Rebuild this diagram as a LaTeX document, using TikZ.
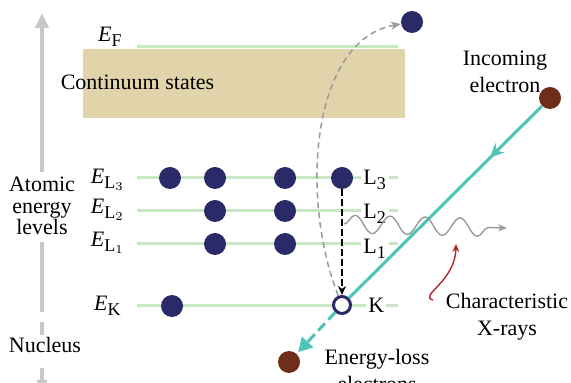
\documentclass[tikz,border=0pt]{standalone}
\usepackage{fontspec}
\setmainfont{Liberation Serif}
\usepackage{tikz}
\usetikzlibrary{arrows.meta, positioning, decorations.pathmorphing, decorations.markings}
\DeclareMathSizes{11}{11}{9}{6}
\definecolor{levGreen}{HTML}{C9E7C4}
\definecolor{contTan}{HTML}{E1D4AA}
\definecolor{elNavy}{HTML}{2A2A68}
\definecolor{elBrown}{HTML}{6E2E1A}
\definecolor{beamTeal}{HTML}{4EC4B4}
\definecolor{axisGray}{HTML}{C8C8C8}
\definecolor{pathGray}{HTML}{9A9A9A}
\definecolor{xrayRed}{HTML}{B3262C}

\begin{document}
\begin{tikzpicture}[
    x=0.5pt, y=-0.5pt,
    txt/.style={font=\fontsize{11}{13.5}\selectfont, inner sep=1pt},
    lvlab/.style={txt, anchor=base east},
    shlab/.style={txt, anchor=base west, fill=white},
    level/.style={levGreen, line width=1.5pt},
    electron/.style={circle, fill=elNavy, minimum size=11pt, inner sep=0pt},
    fast/.style={circle, fill=elBrown, minimum size=11pt, inner sep=0pt},
    hole/.style={circle, draw=elNavy, line width=1.5pt, fill=white, minimum size=8.5pt, inner sep=0pt},
    axis/.style={axisGray, line width=2pt},
    beam/.style={beamTeal, line width=1.5pt},
]
    \useasboundingbox (0,0) rectangle (571,383);

    \draw[axis, -{Triangle[length=7.5pt, width=6.5pt]}] (42,172) -- (42,13);
    \draw[axis] (42,242) -- (42,312);
    \draw[axis] (42,322) -- (42,335);
    \draw[axis, -{Triangle[length=6pt, width=5pt]}] (42,368) -- (42,392);
    \node[txt, align=center, font=\fontsize{11}{10.75}\selectfont] (atomic) at (42,206) {Atomic\\energy\\levels};
    \node[txt, anchor=base] (nucleus) at (45,353) {Nucleus};

    \fill[contTan] (83,49) rectangle (405,118);
    \node[txt, anchor=base] (cont) at (137.5,90) {Continuum states};

    \draw[level] (137,47) -- (398,47);
    \draw[level] (137,178) -- (398,178);
    \draw[level] (137,211) -- (398,211);
    \draw[level] (137,244) -- (398,244);
    \draw[level] (137,306) -- (398,306);

    \node[lvlab] (ef) at (125,42) {$\mathit{E}_{\mathrm{F}}$};
    \node[lvlab] (el3) at (127,184) {$\mathit{E}_{\mathrm{L}_3}$};
    \node[lvlab] (el2) at (127,214) {$\mathit{E}_{\mathrm{L}_2}$};
    \node[lvlab] (el1) at (127,247) {$\mathit{E}_{\mathrm{L}_1}$};
    \node[lvlab] (ek) at (124,311) {$\mathit{E}_{\mathrm{K}}$};

    \node[shlab] (sl3) at (361,185) {L\textsubscript{3}};
    \node[shlab] (sl2) at (361,219) {L\textsubscript{2}};
    \node[shlab] (sl1) at (361,254) {L\textsubscript{1}};
    \node[shlab] (sk) at (366,313) {K};

    \node[electron] (l3a) at (170,178) {};
    \node[electron] (l3b) at (215,178) {};
    \node[electron] (l3c) at (285,178) {};
    \node[electron] (l3d) at (342,178) {};
    \node[electron] (l2a) at (215,211) {};
    \node[electron] (l2b) at (285,211) {};
    \node[electron] (l1a) at (215,244) {};
    \node[electron] (l1b) at (285,244) {};
    \node[electron] (ka) at (172,306) {};
    \node[electron] (ejected) at (412,22) {};
    \node[hole] (khole) at (342,305) {};

    \node[fast] (incoming) at (550,98) {};
    \node[fast] (lost) at (289,362) {};
    \node[txt, align=center] (inlab) at (505,72) {Incoming\\electron};
    \node[txt, align=center] (lostlab) at (377,370) {Energy-loss\\electrons};
    \node[txt, align=center] (xlab) at (507,317) {Characteristic\\X-rays};

    \draw[pathGray, line width=0.75pt, dash pattern=on 3pt off 2pt, -{Stealth[length=5pt, width=4pt]}]
        (khole) .. controls (300,200) and (310,40) .. (ejected);
    \draw[line width=1.1pt, dash pattern=on 3.5pt off 1.5pt, -{Stealth[length=4.5pt, width=4pt]}] (l3d) -- (khole);

    \draw[beam, postaction=decorate, decoration={markings,
        mark=at position 0.27 with {\arrow{Stealth[length=7pt, width=6.5pt]}}}] (incoming) -- (khole);
    \draw[beam, dash pattern=on 5pt off 2.5pt, shorten >=1pt, -{Triangle[length=7pt, width=7.5pt]}] (khole) -- (lost);

    \coordinate (xs) at (344,224);
    \coordinate (xe) at (507,228);
    \draw[pathGray, line width=0.7pt, decorate, decoration={snake, amplitude=4.5pt, segment length=17.5pt, post length=4pt},
        -{Stealth[length=4.5pt, width=3.5pt]}] (xs) -- (xe);

    \coordinate (redS) at (433,300);
    \coordinate (redE) at (456,244);
    \draw[xrayRed, line width=0.7pt, -{Stealth[length=4pt, width=3.5pt]}]
        (redS) .. controls (418,296) and (455,282) .. (redE);
\end{tikzpicture}
\end{document}
